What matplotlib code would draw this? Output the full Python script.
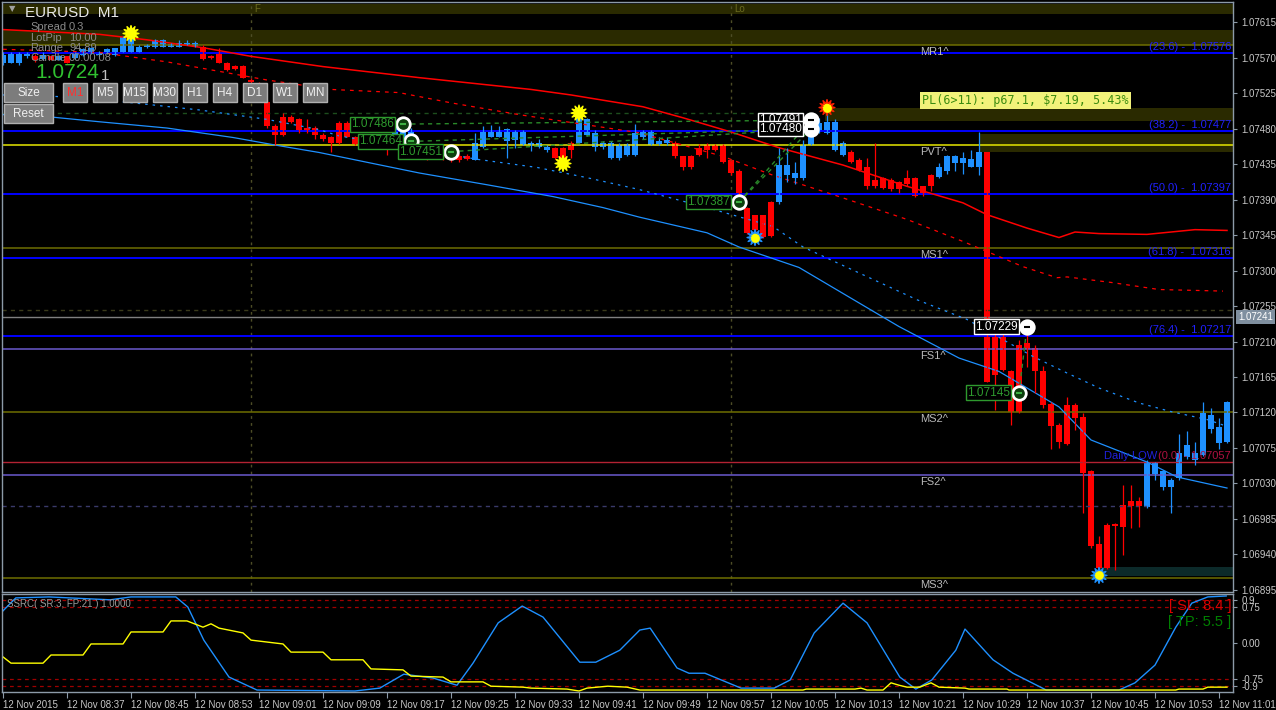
import matplotlib
matplotlib.use("Agg")
import matplotlib.pyplot as plt
from matplotlib.patches import Rectangle
from matplotlib.ticker import FormatStrFormatter

W, H = 1276, 710
plt.rcParams['font.family'] = ['Liberation Sans', 'DejaVu Sans']

# EURUSD M1 candles, bar 0 = 12 Nov 2015 08:29
opens = [
    1.07564, 1.07564, 1.07564, 1.07572, 1.07573, 1.07569, 1.07573, 1.07568, 1.07572, 1.07570,
    1.07574, 1.07577, 1.07574, 1.07577, 1.07574, 1.07578, 1.07578, 1.07578, 1.07584, 1.07584,
    1.07584, 1.07584, 1.07584, 1.07587, 1.07584, 1.07584, 1.07573, 1.07577, 1.07564, 1.07560,
    1.07560, 1.07542, 1.07537, 1.07514, 1.07484, 1.07495, 1.07495, 1.07492, 1.07481, 1.07481,
    1.07472, 1.07469, 1.07488, 1.07488, 1.07470, 1.07465, 1.07467, 1.07470, 1.07470, 1.07462,
    1.07466, 1.07464, 1.07451, 1.07453, 1.07451, 1.07453, 1.07443, 1.07445, 1.07445, 1.07441,
    1.07457, 1.07470, 1.07470, 1.07464, 1.07466, 1.07460, 1.07460, 1.07457, 1.07453, 1.07456,
    1.07456, 1.07462, 1.07462, 1.07472, 1.07457, 1.07457, 1.07443, 1.07443, 1.07447, 1.07447,
    1.07470, 1.07460, 1.07461, 1.07462, 1.07462, 1.07445, 1.07446, 1.07456, 1.07459, 1.07460,
    1.07460, 1.07440, 1.07427, 1.07380, 1.07370, 1.07370, 1.07387, 1.07387, 1.07422, 1.07417,
    1.07417, 1.07460, 1.07476, 1.07475, 1.07453, 1.07447, 1.07451, 1.07441, 1.07432, 1.07415,
    1.07418, 1.07415, 1.07412, 1.07417, 1.07418, 1.07407, 1.07422, 1.07419, 1.07426, 1.07437,
    1.07437, 1.07432, 1.07431, 1.07450, 1.07217, 1.07217, 1.07172, 1.07206, 1.07208, 1.07202,
    1.07172, 1.07131, 1.07104, 1.07130, 1.07130, 1.07114, 1.07045, 1.06953, 1.06977, 1.06978,
    1.07003, 1.07008, 1.07008, 1.07000, 1.07042, 1.07025, 1.07025, 1.07037, 1.07064, 1.07060,
    1.07066, 1.07099, 1.07081, 1.07083]
highs = [
    1.07577, 1.07578, 1.07578, 1.07577, 1.07575, 1.07577, 1.07574, 1.07574, 1.07573, 1.07578,
    1.07583, 1.07584, 1.07579, 1.07582, 1.07583, 1.07598, 1.07602, 1.07586, 1.07588, 1.07594,
    1.07594, 1.07589, 1.07593, 1.07593, 1.07591, 1.07586, 1.07574, 1.07583, 1.07565, 1.07561,
    1.07561, 1.07545, 1.07540, 1.07517, 1.07486, 1.07500, 1.07498, 1.07494, 1.07492, 1.07484,
    1.07475, 1.07471, 1.07490, 1.07490, 1.07471, 1.07474, 1.07472, 1.07472, 1.07472, 1.07484,
    1.07484, 1.07481, 1.07453, 1.07459, 1.07453, 1.07457, 1.07447, 1.07448, 1.07448, 1.07475,
    1.07484, 1.07485, 1.07484, 1.07481, 1.07479, 1.07479, 1.07465, 1.07467, 1.07459, 1.07457,
    1.07457, 1.07465, 1.07507, 1.07494, 1.07478, 1.07465, 1.07465, 1.07462, 1.07462, 1.07486,
    1.07478, 1.07479, 1.07469, 1.07470, 1.07464, 1.07446, 1.07447, 1.07461, 1.07462, 1.07461,
    1.07461, 1.07441, 1.07429, 1.07381, 1.07371, 1.07371, 1.07389, 1.07456, 1.07456, 1.07438,
    1.07466, 1.07492, 1.07494, 1.07507, 1.07492, 1.07465, 1.07453, 1.07443, 1.07443, 1.07462,
    1.07419, 1.07418, 1.07414, 1.07428, 1.07419, 1.07408, 1.07423, 1.07436, 1.07447, 1.07447,
    1.07450, 1.07453, 1.07476, 1.07451, 1.07219, 1.07221, 1.07174, 1.07212, 1.07221, 1.07205,
    1.07179, 1.07133, 1.07107, 1.07140, 1.07132, 1.07119, 1.07047, 1.06963, 1.06980, 1.06980,
    1.07028, 1.07028, 1.07012, 1.07059, 1.07057, 1.07047, 1.07037, 1.07092, 1.07097, 1.07083,
    1.07133, 1.07125, 1.07113, 1.07135]
lows = [
    1.07561, 1.07563, 1.07561, 1.07570, 1.07565, 1.07568, 1.07567, 1.07567, 1.07563, 1.07569,
    1.07573, 1.07575, 1.07573, 1.07575, 1.07573, 1.07577, 1.07577, 1.07577, 1.07583, 1.07583,
    1.07584, 1.07584, 1.07584, 1.07586, 1.07584, 1.07568, 1.07569, 1.07563, 1.07554, 1.07555,
    1.07544, 1.07532, 1.07514, 1.07481, 1.07459, 1.07471, 1.07488, 1.07475, 1.07475, 1.07467,
    1.07464, 1.07451, 1.07461, 1.07469, 1.07459, 1.07460, 1.07461, 1.07459, 1.07447, 1.07460,
    1.07465, 1.07460, 1.07443, 1.07441, 1.07443, 1.07441, 1.07438, 1.07438, 1.07440, 1.07440,
    1.07456, 1.07469, 1.07469, 1.07443, 1.07456, 1.07459, 1.07452, 1.07456, 1.07451, 1.07442,
    1.07434, 1.07443, 1.07461, 1.07471, 1.07452, 1.07455, 1.07442, 1.07441, 1.07445, 1.07446,
    1.07467, 1.07459, 1.07459, 1.07460, 1.07443, 1.07428, 1.07429, 1.07446, 1.07443, 1.07452,
    1.07437, 1.07422, 1.07393, 1.07346, 1.07342, 1.07342, 1.07343, 1.07385, 1.07412, 1.07410,
    1.07415, 1.07459, 1.07475, 1.07474, 1.07452, 1.07446, 1.07436, 1.07426, 1.07403, 1.07405,
    1.07403, 1.07401, 1.07399, 1.07408, 1.07394, 1.07395, 1.07401, 1.07418, 1.07423, 1.07427,
    1.07423, 1.07431, 1.07422, 1.07158, 1.07123, 1.07172, 1.07104, 1.07119, 1.07178, 1.07144,
    1.07126, 1.07073, 1.07075, 1.07078, 1.07098, 1.06992, 1.06948, 1.06914, 1.06921, 1.06920,
    1.06939, 1.06973, 1.06975, 1.06999, 1.07034, 1.07022, 1.06992, 1.07034, 1.07061, 1.07053,
    1.07065, 1.07094, 1.07073, 1.07081]
closes = [
    1.07574, 1.07575, 1.07575, 1.07575, 1.07568, 1.07574, 1.07568, 1.07573, 1.07564, 1.07577,
    1.07581, 1.07583, 1.07578, 1.07581, 1.07582, 1.07596, 1.07596, 1.07584, 1.07587, 1.07593,
    1.07593, 1.07588, 1.07589, 1.07589, 1.07589, 1.07569, 1.07570, 1.07564, 1.07555, 1.07556,
    1.07545, 1.07539, 1.07517, 1.07483, 1.07472, 1.07472, 1.07489, 1.07476, 1.07476, 1.07472,
    1.07467, 1.07462, 1.07462, 1.07470, 1.07461, 1.07462, 1.07462, 1.07460, 1.07457, 1.07483,
    1.07483, 1.07479, 1.07447, 1.07447, 1.07445, 1.07445, 1.07441, 1.07441, 1.07442, 1.07462,
    1.07476, 1.07476, 1.07479, 1.07480, 1.07476, 1.07476, 1.07462, 1.07462, 1.07457, 1.07443,
    1.07441, 1.07453, 1.07498, 1.07492, 1.07475, 1.07462, 1.07462, 1.07460, 1.07461, 1.07475,
    1.07476, 1.07476, 1.07465, 1.07466, 1.07445, 1.07431, 1.07431, 1.07447, 1.07453, 1.07453,
    1.07438, 1.07424, 1.07394, 1.07348, 1.07352, 1.07343, 1.07344, 1.07434, 1.07434, 1.07424,
    1.07460, 1.07489, 1.07488, 1.07489, 1.07489, 1.07462, 1.07438, 1.07428, 1.07407, 1.07407,
    1.07405, 1.07403, 1.07403, 1.07410, 1.07395, 1.07396, 1.07407, 1.07432, 1.07446, 1.07445,
    1.07443, 1.07442, 1.07451, 1.07159, 1.07168, 1.07174, 1.07121, 1.07121, 1.07201, 1.07172,
    1.07130, 1.07103, 1.07083, 1.07080, 1.07113, 1.07043, 1.06951, 1.06923, 1.06923, 1.06976,
    1.06975, 1.07001, 1.07001, 1.07056, 1.07056, 1.07045, 1.07034, 1.07069, 1.07078, 1.07069,
    1.07119, 1.07117, 1.07102, 1.07133]

time_labels = ["12 Nov 2015", "12 Nov 08:37", "12 Nov 08:45", "12 Nov 08:53", "12 Nov 09:01",
               "12 Nov 09:09", "12 Nov 09:17", "12 Nov 09:25", "12 Nov 09:33", "12 Nov 09:41",
               "12 Nov 09:49", "12 Nov 09:57", "12 Nov 10:05", "12 Nov 10:13", "12 Nov 10:21",
               "12 Nov 10:29", "12 Nov 10:37", "12 Nov 10:45", "12 Nov 10:53", "12 Nov 11:01"]

# moving averages as (bar, price) vertices
red_ma_bars = [0, 12, 18, 25, 31, 40, 52, 66, 71, 80, 85, 91, 97, 105, 113, 120, 123, 128,
               132, 134, 137, 143, 149, 153]
red_ma = [1.07606, 1.07600, 1.07593, 1.07583, 1.07572, 1.07559, 1.07545, 1.07530, 1.07523,
          1.07508, 1.07494, 1.07476, 1.07456, 1.07434, 1.07407, 1.07386, 1.07371, 1.07354,
          1.07342, 1.07349, 1.07347, 1.07346, 1.07352, 1.07351]
red_dash_bars = [0, 12, 20.5, 27, 33, 41, 49.5, 56, 64.5, 73, 79.5, 90, 96, 104.5, 113, 120,
                 124, 127.5, 131.75, 133, 138.5, 144.5, 152.5]
red_dash = [1.07581, 1.07577, 1.07565, 1.07553, 1.07542, 1.07530, 1.07526, 1.07513, 1.07498,
            1.07485, 1.07475, 1.07445, 1.07422, 1.07394, 1.07365, 1.07337, 1.07320, 1.07305,
            1.07291, 1.07292, 1.07285, 1.07276, 1.07274]
blue_ma_bars = [0, 6, 12, 20.5, 28.75, 34.25, 39.5, 52, 60.5, 68.75, 75, 79.5, 88, 92, 99.5,
                112, 119.5, 124.5, 132, 136, 143, 146.75, 153]
blue_ma = [1.07498, 1.07495, 1.07489, 1.07481, 1.07469, 1.07459, 1.07450, 1.07424, 1.07409,
           1.07394, 1.07380, 1.07368, 1.07348, 1.07330, 1.07304, 1.07229, 1.07189, 1.07172,
           1.07127, 1.07085, 1.07057, 1.07038, 1.07024]
blue_dash_bars = [0, 6.75, 16.25, 24.5, 33, 39.5, 42, 59.5, 66.75, 73, 79.5, 88, 96.25, 100,
                  114.25, 120.5, 128.75, 133, 137, 142, 146, 150.5, 152.5]
blue_dash = [1.07523, 1.07521, 1.07513, 1.07504, 1.07492, 1.07479, 1.07471, 1.07441, 1.07431,
             1.07418, 1.07403, 1.07380, 1.07356, 1.07330, 1.07263, 1.07238, 1.07191, 1.07170,
             1.07151, 1.07132, 1.07121, 1.07111, 1.07104]

# levels
fib_names = ["(23.6) -  1.07576", "(38.2) -  1.07477", "(50.0) -  1.07397",
             "(61.8) -  1.07316", "(76.4) -  1.07217"]
fib_levels = [1.07576, 1.07477, 1.07397, 1.07316, 1.07217]
daily_low = 1.07057
pivot_names = ["MR1^", "PVT^", "MS1^", "FS1^", "MS2^", "FS2^", "MS3^"]
pivot_levels = [1.07587, 1.07459, 1.07329, 1.07200, 1.07121, 1.07040, 1.06910]
pivot_colors = ["#6e6e00", "#e6e600", "#6e6e00", "#6a5acd", "#6e6e00", "#6a5acd", "#6e6e00"]
bid = 1.07241

# trades
entry_bars = [50, 51, 56, 92, 127]
entry_prices = [1.07486, 1.07464, 1.07451, 1.07387, 1.07145]
exit_bars = [101, 101, 128]
exit_prices = [1.07491, 1.07480, 1.07229]
star_bars = [16, 70, 72, 94, 103, 137]
star_prices = [1.07601, 1.07436, 1.07500, 1.07342, 1.07507, 1.06913]
star_edges = ["#ffff00", "#ffff00", "#ffff00", "#1e90ff", "#ff2000", "#1e90ff"]

# SSRC oscillator (bar, value)
osc_bars = [0, 1.6, 5.75, 13.4, 16, 21.6, 23.1, 25.1, 28.25, 31.75, 44, 47.1, 50.1, 53.75,
            56.75, 58.75, 61.9, 64.9, 67.5, 72.1, 74.1, 77.1, 79.6, 80.9, 84.25, 85.75, 87.75,
            92.25, 96.4, 98.4, 101.4, 105, 108, 112.1, 114.1, 116.1, 119.1, 120.25, 123.75,
            126.25, 130.4, 139.5, 141.5, 144, 146.6, 148.6, 150.6, 152.9]
osc_vals = [0.67, 0.94, 0.96, 0.90, 0.96, 0.96, 0.75, 0.06, -0.71, -0.98, -1.0, -0.94, -0.65,
            -0.73, -0.88, -0.42, 0.42, 0.77, 0.54, -0.40, -0.40, -0.15, 0.27, 0.31, -0.52, -0.63,
            -0.63, -0.94, -0.94, -0.77, 0.21, 0.83, 0.42, -0.71, -0.96, -0.77, -0.15, 0.29,
            -0.35, -0.63, -0.98, -0.98, -0.83, -0.46, 0.33, 0.83, 0.96, 0.98]
sig_bars = [0, 1, 5, 6, 10, 11, 15, 16, 20, 21, 23, 25, 26, 27, 30, 31, 33, 35, 36, 40, 41, 45,
            46, 50, 51, 55, 56, 60, 61, 65, 66, 70.5, 72, 73, 75.6, 78, 79.6, 100, 100.4, 106.5,
            107.25, 108, 110, 111, 112, 113, 114.6, 116, 117, 120.25, 120.75, 125.5, 125.75,
            146.6, 147, 150, 150.6, 153]
sig_vals = [-0.29, -0.42, -0.42, -0.25, -0.25, -0.02, -0.02, 0.23, 0.23, 0.46, 0.46, 0.33,
            0.40, 0.31, 0.21, 0.06, 0.02, -0.02, -0.19, -0.19, -0.35, -0.35, -0.54, -0.56,
            -0.69, -0.71, -0.81, -0.81, -0.90, -0.92, -0.94, -0.96, -1.0, -0.94, -0.90, -0.92,
            -0.98, -0.98, -0.96, -0.96, -0.94, -0.98, -0.98, -0.83, -0.88, -0.92, -0.92, -0.83,
            -0.92, -0.94, -0.96, -0.96, -0.98, -0.98, -0.96, -0.96, -0.92, -0.92]


def rect(x0, y0, x1, y1):
    return [x0 / W, 1 - y1 / H, (x1 - x0) / W, (y1 - y0) / H]


def ftext(x, y, s, **kw):
    kw.setdefault("va", "center")
    fig.text(x / W, 1 - y / H, s, **kw)


fig = plt.figure(figsize=(W / 100, H / 100), dpi=100, facecolor="black")
ax = fig.add_axes(rect(2, 2, 1233, 592), facecolor="black")
sub = fig.add_axes(rect(2, 594, 1233, 692), facecolor="black", sharex=ax)
xmax = 153.75
ax.set_xlim(-0.125, xmax)
ax.set_ylim(1.06892, 1.07641)
sub.set_ylim(-1.021, 1.021)

for a in (ax, sub):
    for s in a.spines.values():
        s.set_color("#8c9aa8")
        s.set_linewidth(1)

# zones
ax.fill_between([-1, xmax], 1.07626, 1.07638, color="#2a2a00", lw=0)
ax.fill_between([-1, xmax], 1.07587, 1.07606, color="#2a2a00", lw=0)
ax.fill_between([102.75, xmax], 1.07490, 1.07506, color="#2a2a00", lw=0)
ax.fill_between([122.1, xmax], 1.07451, 1.07473, color="#2a2a00", lw=0)
ax.fill_between([137.1, xmax], 1.06912, 1.06924, color="#0c2a2a", lw=0)

# session separators
ax.axvline(31, color="#4d4d26", lw=1, ls=(0, (2, 3)))
ax.axvline(91, color="#4d4d26", lw=1, ls=(0, (2, 3)))
ax.text(31.4, 1.07632, "F", color="#6b6b20", fontsize=7, va="center")
ax.text(91.4, 1.07632, "Lo", color="#6b6b20", fontsize=7, va="center")

# horizontal levels
for name, lv, col in zip(pivot_names, pivot_levels, pivot_colors):
    ax.axhline(lv, color=col, lw=1.1)
    ax.annotate(name, (114.7, lv), xytext=(0, -2), textcoords="offset pixels",
                color="#b8b8b8", fontsize=8, va="top", ha="left")
for name, lv in zip(fib_names, fib_levels):
    ax.axhline(lv, color="#0000ff", lw=1.4)
    ax.annotate(name, (153.5, lv), xytext=(0, 1), textcoords="offset pixels",
                color="#2020ff", fontsize=8, va="bottom", ha="right")
ax.axhline(daily_low, color="#b22233", lw=1)
ax.annotate("(0.0) - 1.07057", (153.5, daily_low), xytext=(0, 1), textcoords="offset pixels",
            color="#b01040", fontsize=8, va="bottom", ha="right")
ax.annotate("Daily LOW", (144.3, daily_low), xytext=(0, 1), textcoords="offset pixels",
            color="#2020dd", fontsize=8, va="bottom", ha="right")
ax.axhline(1.07250, color="#3a3a1a", lw=1, ls=(0, (3, 3)))
ax.axhline(1.07001, color="#3a3a6a", lw=1, ls=(0, (3, 3)))
ax.axhline(bid, color="#808080", lw=1)
ax.plot([-1, 101], [1.07500, 1.07500], color="#1d4d1d", lw=1, ls=(0, (3, 3)))

# moving averages
ax.plot(red_ma_bars, red_ma, color="#ff0000", lw=1.1)
ax.plot(red_dash_bars, red_dash, color="#ff0000", lw=0.9, ls=(0, (3, 4)))
ax.plot(blue_ma_bars, blue_ma, color="#1e90ff", lw=0.9)
ax.plot(blue_dash_bars, blue_dash, color="#1e90ff", lw=0.9, ls=(0, (2, 4)))

# candles
idx = list(range(len(opens)))
cols = ["#1e90ff" if c >= o else "#ff0000" for o, c in zip(opens, closes)]
ax.vlines(idx, lows, highs, colors=cols, lw=0.9)
bottoms = [min(o, c) for o, c in zip(opens, closes)]
heights = [max(abs(c - o), 0.000015) for o, c in zip(opens, closes)]
ax.bar(idx, heights, bottom=bottoms, width=0.68, color=cols, lw=0)

# trade lines
for eb, ep, xb, xp in [(50, 1.07486, 101, 1.07491), (51, 1.07464, 101, 1.07480),
                       (56, 1.07451, 101, 1.07480), (92, 1.07387, 101, 1.07491),
                       (92, 1.07387, 101, 1.07480), (127, 1.07145, 128, 1.07229)]:
    ax.plot([eb, xb], [ep, xp], color="#2a8a2a", lw=1, ls=(0, (3, 3)))

ax.scatter(entry_bars, entry_prices, s=95, facecolor="#0d3d0d", edgecolor="white", lw=2, zorder=6)
ax.scatter(entry_bars, entry_prices, s=14, marker="_", color="#3cb043", lw=1.5, zorder=7)
for b, p in zip(entry_bars, entry_prices):
    ax.annotate(f"{p:.5f}", (b, p), xytext=(-9, 0), textcoords="offset pixels", ha="right",
                va="center", color="#2e9a2e", fontsize=8.5, zorder=8,
                bbox=dict(boxstyle="square,pad=0.12", fc="black", ec="#2e9a2e", lw=1))
ax.scatter(exit_bars, exit_prices, s=95, facecolor="white", edgecolor="white", lw=2, zorder=6)
ax.scatter(exit_bars, exit_prices, s=14, marker="_", color="black", lw=1.5, zorder=7)
for b, p in zip(exit_bars, exit_prices):
    ax.annotate(f"{p:.5f}", (b, p), xytext=(-9, 0), textcoords="offset pixels", ha="right",
                va="center", color="white", fontsize=8.5, zorder=8,
                bbox=dict(boxstyle="square,pad=0.12", fc="black", ec="white", lw=1))

ax.scatter(star_bars, star_prices, s=130, marker=(12, 1, 0), facecolor="#ffff00",
           edgecolor=star_edges, lw=1, zorder=9)
ax.scatter(star_bars, star_prices, s=40, marker="o", facecolor="#ffff00", lw=0, zorder=10)

# PL box
ax.annotate(r"PL(6>11): p67.1, \$7.19, 5.43%", (114.9, 1.07516), fontsize=8.5,
            family="DejaVu Sans Mono", color="#3c8c10", ha="left", va="center",
            bbox=dict(boxstyle="square,pad=0.18", fc="#f2f27a", ec="none"))

# price axis
ax.yaxis.tick_right()
ax.set_yticks([1.06895 + 0.00045 * k for k in range(17)])
ax.yaxis.set_major_formatter(FormatStrFormatter("%.5f"))
ax.tick_params(axis="y", colors="#8c9aa8", labelcolor="#c8c8c8", labelsize=7, length=3,
               pad=3)
ax.tick_params(axis="x", bottom=False, labelbottom=False)
ax.annotate(f"{bid:.5f}", (1.0, bid), xycoords=("axes fraction", "data"), xytext=(5, 0),
            textcoords="offset pixels", ha="left", va="center", color="white", fontsize=7,
            bbox=dict(boxstyle="square,pad=0.2", fc="#7f8f9f", ec="none"), annotation_clip=False)

# oscillator panel
for lv in (0.9, 0.75, -0.75, -0.9):
    sub.axhline(lv, color="#a00000", lw=0.9, ls=(0, (3, 3)))
sub.plot(osc_bars, osc_vals, color="#1e90ff", lw=1)
sub.plot(sig_bars, sig_vals, color="#ffff00", lw=1)
sub.yaxis.tick_right()
sub.set_yticks([0.9, 0.75, 0.0, -0.75, -0.9], ["0.9", "0.75", "0.00", "-0.75", "-0.9"])
sub.tick_params(axis="y", colors="#8c9aa8", labelcolor="#c8c8c8", labelsize=7, length=3, pad=3)
sub.set_xticks(list(range(0, 153, 8)), time_labels)
sub.tick_params(axis="x", colors="#8c9aa8", labelcolor="#c8c8c8", labelsize=7, length=4, pad=2)
for lbl in sub.get_xticklabels():
    lbl.set_ha("left")
sub.text(0.004, 0.9, "SSRC( SR:3, FP:21 ) 1.0000", transform=sub.transAxes, color="#9a9a9a",
         fontsize=7, va="center")
sub.text(0.9985, 0.875, "[ SL: 8.4 ]", transform=sub.transAxes, color="#dd0000", fontsize=10.5,
         ha="right", va="center")
sub.text(0.9985, 0.71, "[ TP: 5.5 ]", transform=sub.transAxes, color="#008000", fontsize=10.5,
         ha="right", va="center")

# header info
ftext(9, 9, "\u25bc", color="#a0a0a0", fontsize=6, family="DejaVu Sans")
ftext(25, 13, "EURUSD  M1", color="#e8e8e8", fontsize=11)
for yy, k, v in [(27, "Spread", "0.3"), (38, "LotPip", "10.00"), (48, "Range", "94.89"),
                 (58, "Candle", "00:00:08")]:
    ftext(30, yy, k, color="#8a8a8a", fontsize=8)
    ftext(69, yy, v, color="#8a8a8a", fontsize=8)
ftext(35, 73, "1.0724", color="#30c030", fontsize=15)
ftext(101, 76, "1", color="#c0c0c0", fontsize=11)

# buttons
buttons = [("Size", 4, 53, 83, 102), ("M1", 63, 87, 83, 102), ("M5", 93, 117, 83, 102),
           ("M15", 123, 147, 83, 102), ("M30", 153, 177, 83, 102), ("H1", 183, 207, 83, 102),
           ("H4", 213, 237, 83, 102), ("D1", 243, 267, 83, 102), ("W1", 273, 297, 83, 102),
           ("MN", 303, 327, 83, 102), ("Reset", 4, 53, 104, 123)]
for lab, x0, x1, y0, y1 in buttons:
    fig.add_artist(Rectangle((x0 / W, 1 - y1 / H), (x1 - x0) / W, (y1 - y0) / H,
                             transform=fig.transFigure, fc="#7c7c7c", ec="#b0b0b0", lw=1))
    ftext((x0 + x1) / 2, (y0 + y1) / 2 + 0.5, lab, ha="center",
          color="#ff3030" if lab == "M1" else "#f0f0f0", fontsize=8.5)

fig.savefig("out.png", dpi=100, facecolor="black")
